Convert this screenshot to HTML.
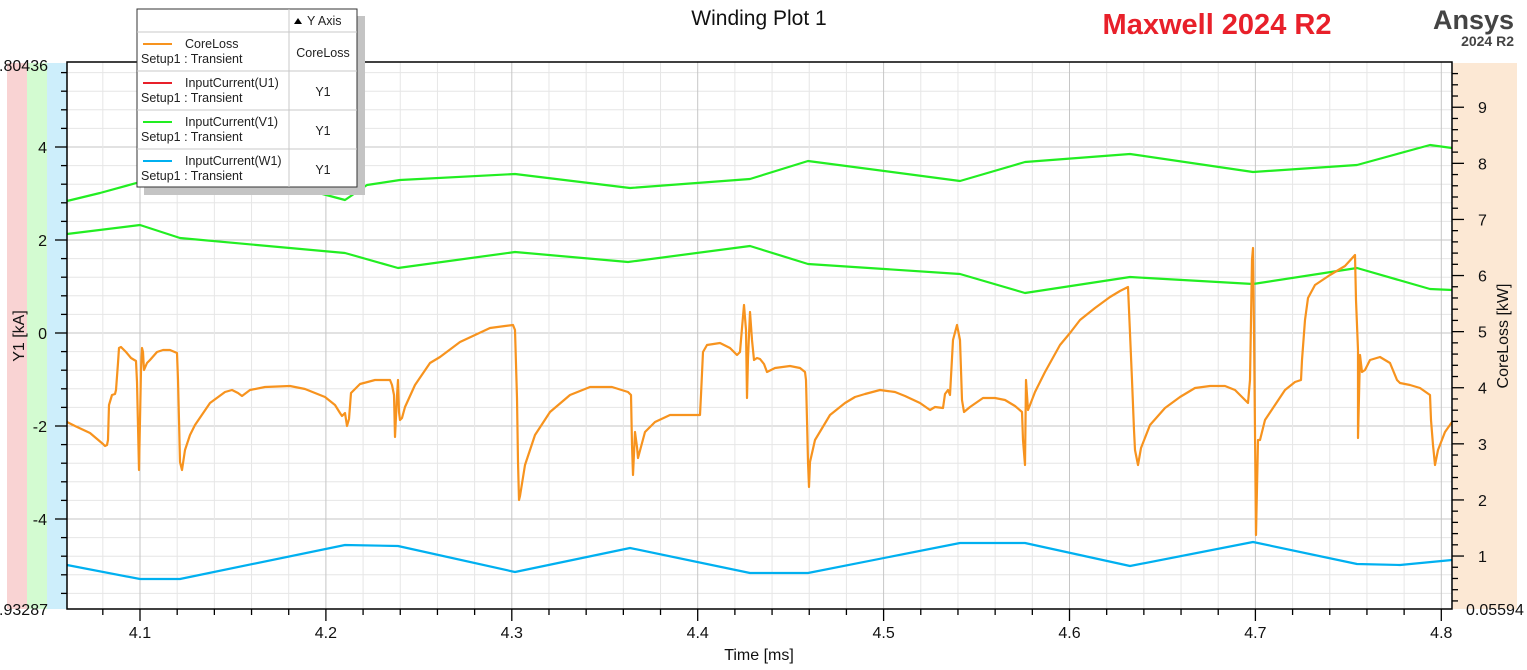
<!DOCTYPE html>
<html><head><meta charset="utf-8"><style>
html,body{margin:0;padding:0;background:#fff;}
svg{display:block;font-family:"Liberation Sans",Arial,sans-serif;}
</style></head><body>
<svg width="1527" height="670" viewBox="0 0 1527 670">
<rect x="7" y="63" width="20" height="546" fill="#f9d3d3"/>
<rect x="27" y="63" width="20" height="546" fill="#d3fbd1"/>
<rect x="47" y="63" width="20" height="546" fill="#cdeefb"/>
<rect x="1453" y="63" width="64" height="546" fill="#fce8d4"/>
<g id="grid"></g>
<g id="ser" fill="none" stroke-width="2.2" stroke-linejoin="round"></g>
<rect x="67" y="62" width="1385" height="547" fill="none" stroke="#000" stroke-width="1.5"/>
<g id="ticks" stroke="#000" stroke-width="1.3"></g>
<g font-size="16" fill="#111">
<text x="48" y="71" text-anchor="end">5.80436</text>
<text x="48" y="615" text-anchor="end">-5.93287</text>
<text x="47" y="153" text-anchor="end">4</text>
<text x="47" y="246" text-anchor="end">2</text>
<text x="47" y="339" text-anchor="end">0</text>
<text x="47" y="432" text-anchor="end">-2</text>
<text x="47" y="525" text-anchor="end">-4</text>
<text x="1466" y="615">0.05594</text>
<g id="rl"></g>
<g id="xl" text-anchor="middle"></g>
<text x="759" y="660" text-anchor="middle">Time [ms]</text>
<text transform="translate(24,336) rotate(-90)" text-anchor="middle">Y1 [kA]</text>
<text transform="translate(1508,336) rotate(-90)" text-anchor="middle">CoreLoss [kW]</text>
</g>
<text x="759" y="25" text-anchor="middle" font-size="21" fill="#111">Winding Plot 1</text>
<text x="1217" y="34" text-anchor="middle" font-size="29" font-weight="bold" fill="#e8202a">Maxwell 2024 R2</text>
<text x="1514" y="29" text-anchor="end" font-size="27" font-weight="bold" fill="#444">Ansys</text>
<text x="1514" y="46" text-anchor="end" font-size="14" font-weight="bold" fill="#444">2024 R2</text>
<g>
<rect x="144" y="16" width="221" height="179" fill="#c4c4c4"/>
<rect x="137" y="9" width="220" height="178" fill="#fff" stroke="#333" stroke-width="1"/>
<g stroke="#c8c8c8" stroke-width="1">
<line x1="137" x2="357" y1="32" y2="32"/><line x1="137" x2="357" y1="71" y2="71"/><line x1="137" x2="357" y1="110" y2="110"/><line x1="137" x2="357" y1="149" y2="149"/><line x1="289" x2="289" y1="9" y2="187"/>
</g>
<path d="M294 24 l4 -6 l4 6z" fill="#000"/>
<g font-size="12.5" fill="#222">
<text x="307" y="25">Y Axis</text>
<line x1="143" x2="172" y1="44" y2="44" stroke="#f7931e" stroke-width="2"/>
<text x="185" y="48">CoreLoss</text><text x="141" y="63">Setup1 : Transient</text><text x="323" y="57" text-anchor="middle">CoreLoss</text>
<line x1="143" x2="172" y1="83" y2="83" stroke="#e8202a" stroke-width="2"/>
<text x="185" y="87">InputCurrent(U1)</text><text x="141" y="102">Setup1 : Transient</text><text x="323" y="96" text-anchor="middle">Y1</text>
<line x1="143" x2="172" y1="122" y2="122" stroke="#22ee22" stroke-width="2"/>
<text x="185" y="126">InputCurrent(V1)</text><text x="141" y="141">Setup1 : Transient</text><text x="323" y="135" text-anchor="middle">Y1</text>
<line x1="143" x2="172" y1="161" y2="161" stroke="#00b0f0" stroke-width="2"/>
<text x="185" y="165">InputCurrent(W1)</text><text x="141" y="180">Setup1 : Transient</text><text x="323" y="174" text-anchor="middle">Y1</text>
</g>
</g>
</svg>
<script>
const NS="http://www.w3.org/2000/svg";
function el(p,t,a,txt){const e=document.createElementNS(NS,t);for(const k in a)e.setAttribute(k,a[k]);if(txt!==undefined)e.textContent=txt;p.appendChild(e);return e;}
const grid=document.getElementById("grid"),ticks=document.getElementById("ticks"),xl=document.getElementById("xl"),rl=document.getElementById("rl"),ser=document.getElementById("ser");
for(let v=-5.6;v<=5.7;v+=0.4){const y=333-v*46.5;const maj=Math.abs(v/2-Math.round(v/2))<0.01;
el(grid,"line",{x1:67,x2:1452,y1:y,y2:y,stroke:maj?"#c6c6c6":"#e6e6e6","stroke-width":1});
el(ticks,"line",{x1:67,x2:maj?55:61,y1:y,y2:y});}
const px=v=>140+(v-4.1)*1859;
for(let i=0;i<40;i++){const v=4.06+i*0.02;const x=px(v);if(x<68||x>1451)continue;const maj=Math.abs(v*10-Math.round(v*10))<0.01;
el(grid,"line",{x1:x,x2:x,y1:62,y2:609,stroke:maj?"#c6c6c6":"#e6e6e6","stroke-width":1});
el(ticks,"line",{x1:x,x2:x,y1:609,y2:maj?621:615});
if(maj)el(xl,"text",{x:x,y:638},(Math.round(v*10)/10).toFixed(1));}
for(let v=0.2;v<=9.9;v+=0.2){const y=609-(v-0.056)*56.1;if(y<63)continue;const maj=Math.abs(v-Math.round(v))<0.01;
el(ticks,"line",{x1:1452,x2:maj?1464:1458,y1:y,y2:y});
if(maj)el(rl,"text",{x:1478,y:y+6},String(Math.round(v)));}
function pl(c,pts){el(ser,"polyline",{points:pts,stroke:c});}
pl("#22ee22","67,201 100,193 140,182 200,184 300,188 345,200 367,185 400,180 515,174 630,188 750,179 808,161 960,181 1025,162 1130,154 1253,172 1357,165 1430,145 1452,148");
pl("#22ee22","67,234 140,225 180,238 345,253 398,268 515,252 628,262 750,246 808,264 960,274 1025,293 1130,277 1253,284 1357,268 1430,289 1452,290");
pl("#00b0f0","67,565 140,579 180,579 345,545 398,546 515,572 630,548 750,573 808,573 960,543 1025,543 1130,566 1253,542 1357,564 1400,565 1452,560");
pl("#f7931e","67,422 75,426 90,433 103,444 105,446 107,445 108,440 109,405 112,395 115,394 116,390 118,363 119,348 121,347 126,352 131,358 136,361 137,382 139,470 141,370 142,348 143,352 144,370 147,363 150,360 157,352 163,350 170,350 177,353 178,380 179,420 180,462 182,470 185,450 190,435 195,425 210,403 225,392 232,390 238,393 242,396 250,390 265,387 290,386 305,389 325,397 335,405 340,413 342,416 345,413 347,426 349,419 351,393 360,384 375,380 390,380 392,385 394,395 395,437 397,396 398,380 399,412 400,420 402,418 405,407 415,385 430,363 440,357 460,342 475,335 490,328 505,326 513,325 515,330 517,398 518,462 519,500 520,496 525,465 535,435 550,412 570,395 590,387 612,387 628,392 631,395 632,445 633,475 635,432 637,447 638,458 645,432 655,422 670,415 690,415 700,415 701,395 703,352 707,345 720,343 730,348 737,355 740,352 742,328 744,305 746,330 747,398 748,358 750,312 752,340 754,360 757,358 760,359 764,364 767,372 775,368 790,366 800,368 805,372 806,380 807,420 808,462 809,487 810,462 815,440 830,415 845,403 855,397 865,394 880,390 895,392 905,396 920,403 930,410 935,407 943,408 945,394 948,390 950,395 953,340 957,325 960,340 962,400 964,412 970,407 983,398 995,398 1005,400 1015,406 1022,412 1023,440 1025,465 1026,380 1028,410 1030,405 1035,392 1045,372 1060,345 1070,333 1080,320 1095,308 1110,297 1120,291 1128,287 1129,310 1132,380 1134,430 1135,450 1138,465 1141,448 1150,425 1165,408 1180,397 1195,388 1210,386 1225,386 1235,390 1245,400 1248,403 1250,380 1252,260 1253,248 1254,330 1256,535 1258,440 1260,440 1265,420 1275,405 1285,390 1295,382 1301,380 1302,360 1305,320 1308,298 1315,285 1330,275 1345,266 1355,255 1356,300 1358,350 1358,438 1360,355 1362,372 1365,370 1370,360 1380,357 1390,363 1397,380 1400,383 1410,385 1420,388 1430,395 1431,420 1433,445 1435,465 1438,450 1445,432 1452,422");
</script>
</body></html>
